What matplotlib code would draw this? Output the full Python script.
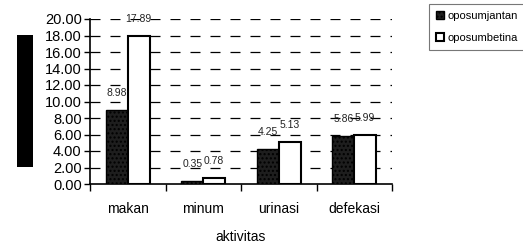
import matplotlib
matplotlib.use("Agg")
import matplotlib.pyplot as plt
from matplotlib.patches import Rectangle, Patch
import numpy as np

categories = ["makan", "minum", "urinasi", "defekasi"]
jantan = [8.98, 0.35, 4.25, 5.86]
betina = [17.89, 0.78, 5.13, 5.99]
series_names = ["oposumjantan", "oposumbetina"]
yticks = [0, 2, 4, 6, 8, 10, 12, 14, 16, 18, 20]

plt.rcParams['font.family'] = ['Liberation Sans', 'DejaVu Sans']

fig = plt.figure(figsize=(5.23, 2.48), dpi=100)
W, H = 523, 248
ax = fig.add_axes([90 / W, 1 - 184 / H, (392 - 90) / W, (184 - 19) / H])

x = np.arange(len(categories))
bw = 0.29
ax.bar(x - bw / 2, jantan, bw, color="#1e1e1e", edgecolor="black", linewidth=1.0,
       hatch="....", zorder=3)
ax.bar(x + bw / 2, betina, bw, color="white", edgecolor="black", linewidth=1.5, zorder=3)
for i, v in enumerate(jantan):
    ax.annotate(f"{v:.2f}", (x[i] - bw / 2, v), xytext=(0, 17), textcoords="offset pixels",
                ha="center", va="center", fontsize=7.5, color="#222222")
for i, v in enumerate(betina):
    ax.annotate(f"{v:.2f}", (x[i] + bw / 2, v), xytext=(0, 17), textcoords="offset pixels",
                ha="center", va="center", fontsize=7.5, color="#222222")

ax.set_xlim(-0.5, len(categories) - 0.5)
ax.set_ylim(0, 20)
ax.set_yticks(yticks)
ax.set_yticklabels([f"{t:.2f}" for t in yticks], fontsize=10.5)
ax.set_xticks(x)
ax.set_xticklabels(categories, fontsize=10)
ax.set_xticks(np.arange(-0.5, len(categories)), minor=True)
ax.tick_params(axis="x", which="major", length=0, pad=13)
ax.tick_params(axis="x", which="minor", length=5, width=1, direction="out")
ax.tick_params(axis="y", length=4, width=1, direction="out", pad=2)

for t in yticks[1:]:
    ax.axhline(t, color="black", linestyle=(0, (8, 8)), linewidth=0.9, zorder=1)

for s in ["top", "right"]:
    ax.spines[s].set_visible(False)
ax.spines["left"].set_linewidth(1.2)
ax.spines["bottom"].set_linewidth(1.2)

ax.set_xlabel("aktivitas", fontsize=10, labelpad=10)

fig.patches.append(Rectangle((17 / W, 1 - 167 / H), 16 / W, 132 / H,
                             transform=fig.transFigure, facecolor="black", edgecolor="none"))

handles = [Patch(facecolor="#1e1e1e", edgecolor="black", hatch="...."),
           Patch(facecolor="white", edgecolor="black", linewidth=1.5)]
leg = fig.legend(handles, series_names, loc="upper left", bbox_to_anchor=(429 / W, 1 - 4 / H),
                 fontsize=8, frameon=True, fancybox=False, edgecolor="#555555",
                 handlelength=0.75, handleheight=0.75, handletextpad=0.35,
                 borderpad=0.6, labelspacing=1.1, borderaxespad=0)
leg.get_frame().set_linewidth(0.8)

fig.savefig("out.png", dpi=100)
